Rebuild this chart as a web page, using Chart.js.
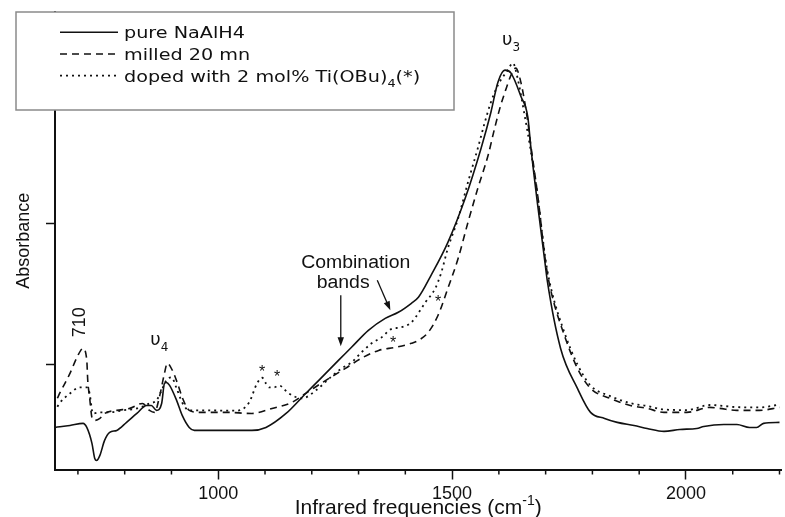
<!DOCTYPE html>
<html>
<head>
<meta charset="utf-8">
<script src="https://cdn.jsdelivr.net/npm/chart.js@4.4.1/dist/chart.umd.min.js"></script>
<style>
html,body{margin:0;padding:0;background:#fff;}
#wrap{width:785px;height:517px;position:relative;}
</style>
</head>
<body>
<div id="wrap"><canvas id="c"></canvas></div>
<script>
// ---------- data ----------
const seriesNames = ['pure NaAlH4', 'milled 20 mn', 'doped with 2 mol% Ti(OBu)₄(*)'];

const pureX = [651,683,711,719,730,736,740,747,757,768,783,804,826,847,857,868,879,885,889,896,911,923,938,949,1023,1072,1102,1145,1187,1215,1257,1285,1321,1357,1385,1413,1428,1455,1491,1528,1562,1583,1598,1613,1626,1647,1662,1668,1683,1698,1704,1732,1768,1796,1826,1853,1889,1917,1953,1987,2023,2038,2081,2109,2136,2151,2166,2200];
const pureY = [0.553,0.567,0.582,0.553,0.440,0.333,0.319,0.355,0.461,0.518,0.532,0.589,0.652,0.709,0.709,0.674,0.723,0.865,0.872,0.851,0.745,0.638,0.553,0.532,0.532,0.532,0.553,0.652,0.794,0.887,1.028,1.121,1.241,1.326,1.369,1.433,1.475,1.631,1.865,2.177,2.532,2.787,3.000,3.085,3.064,2.900,2.750,2.550,2.128,1.737,1.582,1.113,0.830,0.660,0.617,0.589,0.567,0.546,0.525,0.539,0.546,0.560,0.574,0.574,0.553,0.553,0.582,0.589];

const milledX = [656,662,683,698,711,719,721,725,730,736,747,757,783,811,838,853,864,874,885,891,902,913,923,938,960,1017,1072,1115,1157,1187,1230,1272,1306,1343,1379,1413,1428,1449,1470,1491,1513,1534,1555,1577,1591,1604,1613,1626,1636,1647,1662,1668,1683,1700,1711,1740,1768,1796,1838,1881,1917,1953,2002,2051,2072,2109,2157,2200];
const milledY = [0.760,0.801,0.936,1.050,1.113,1.028,0.887,0.766,0.624,0.603,0.617,0.652,0.674,0.688,0.723,0.674,0.660,0.766,0.936,1.007,0.957,0.865,0.766,0.674,0.660,0.660,0.652,0.688,0.730,0.794,0.887,0.972,1.043,1.099,1.121,1.149,1.170,1.227,1.348,1.539,1.752,2.007,2.248,2.482,2.674,2.837,2.929,3.050,3.099,3.000,2.716,2.560,2.199,1.723,1.525,1.206,0.972,0.830,0.759,0.709,0.688,0.660,0.660,0.695,0.688,0.674,0.674,0.695];

const dopedX = [656,662,683,704,719,725,732,747,768,796,826,853,868,879,889,900,911,923,938,960,1040,1066,1083,1094,1102,1109,1119,1130,1151,1179,1209,1240,1264,1285,1306,1328,1349,1370,1391,1413,1443,1464,1477,1491,1513,1534,1555,1570,1583,1598,1619,1630,1640,1655,1668,1683,1700,1711,1740,1768,1796,1838,1881,1917,1953,2002,2051,2109,2157,2200];
const dopedY = [0.700,0.730,0.794,0.837,0.837,0.794,0.652,0.660,0.660,0.674,0.688,0.723,0.745,0.816,0.887,0.908,0.830,0.730,0.674,0.674,0.672,0.730,0.865,0.905,0.865,0.837,0.837,0.850,0.794,0.759,0.816,0.908,0.972,1.014,1.085,1.149,1.191,1.250,1.262,1.298,1.440,1.539,1.652,1.823,2.035,2.291,2.532,2.716,2.858,2.979,3.085,3.135,3.028,2.766,2.518,2.190,1.738,1.546,1.227,1.000,0.850,0.775,0.725,0.705,0.680,0.676,0.712,0.697,0.695,0.715];

const xTicks = [700,800,900,1000,1100,1200,1300,1400,1500,1600,1700,1800,1900,2000,2100,2200];
const xLabelTicks = [1000,1500,2000];
const yTicks = [1,2];
const xTitle = 'Infrared frequencies (cm⁻¹)';
const yTitle = 'Absorbance';

// annotations (anchored in data units)
const bandLabels = [
  {text:'710', x:704, y:1.298, rotate:true},
  {text:'υ₄', x:874, y:1.135},
  {text:'υ₃', x:1626, y:3.262}
];
const noteLines = [
  {text:'Combination', x:1294, y:1.681},
  {text:'bands', x:1267, y:1.539}
];
const arrows = [
  {x1:1262, y1:1.489, x2:1262, y2:1.128},
  {x1:1340, y1:1.596, x2:1368, y2:1.383}
];
const stars = [[1094,0.979],[1126,0.943],[1374,1.184],[1470,1.475]];

// ---------- helpers ----------
const SUB = {'₀':'0','₁':'1','₂':'2','₃':'3','₄':'4','₅':'5','₆':'6','₇':'7','₈':'8','₉':'9'};
const SUP = {'⁻':'-','¹':'1','²':'2','³':'3'};
function toRuns(text){
  const out=[];
  for(const ch of text){
    const k = SUB[ch] ? 'sub' : (SUP[ch] ? 'sup' : 'n');
    const c = SUB[ch] || SUP[ch] || ch;
    if(out.length && out[out.length-1].k===k) out[out.length-1].t += c;
    else out.push({k, t:c});
  }
  return out;
}
function drawRich(ctx, text, x, y, size, family, align, sx){
  sx = sx || 1;
  const rs = toRuns(text);
  const f = k => (k==='n' ? size : Math.round(size*0.66)) + 'px ' + family;
  let w = 0;
  rs.forEach(r => { ctx.font = f(r.k); r.w = ctx.measureText(r.t).width; w += r.w; });
  ctx.save();
  ctx.translate(x, y);
  ctx.scale(sx, 1);
  let cx = align==='center' ? -w/2 : (align==='right' ? -w : 0);
  ctx.textAlign = 'left';
  ctx.textBaseline = 'alphabetic';
  rs.forEach(r => {
    ctx.font = f(r.k);
    const dy = r.k==='sub' ? size*0.32 : (r.k==='sup' ? -size*0.42 : 0);
    ctx.fillText(r.t, cx, dy);
    cx += r.w;
  });
  ctx.restore();
  return w*sx;
}

const INK = '#111';
const SANS = '"Liberation Sans", Arial, sans-serif';
const LEG = '"DejaVu Sans", Verdana, sans-serif';

const series = [
  {label: seriesNames[0], xs: pureX, ys: pureY, dash: [], width: 1.6},
  {label: seriesNames[1], xs: milledX, ys: milledY, dash: [7,5], width: 1.6},
  {label: seriesNames[2], xs: dopedX, ys: dopedY, dash: [2,4], width: 1.8}
];

const decor = {
  id: 'decor',
  afterDraw(chart){
    const {ctx, chartArea: ca, scales: {x, y}} = chart;
    const X = v => x.getPixelForValue(v), Y = v => y.getPixelForValue(v);
    ctx.save();
    // minor ticks on x axis
    ctx.strokeStyle = INK; ctx.lineWidth = 1.5;
    xTicks.filter(v => !xLabelTicks.includes(v)).forEach(v => {
      const px = X(v);
      ctx.beginPath(); ctx.moveTo(px, ca.bottom); ctx.lineTo(px, ca.bottom + 5); ctx.stroke();
    });
    ctx.fillStyle = INK;
    // x title with superscript
    drawRich(ctx, xTitle, (ca.left + ca.right)/2, ca.bottom + 44, 21, SANS, 'center', 1);

    // band labels
    bandLabels.forEach(b => {
      const px = X(b.x), py = Y(b.y);
      if (b.rotate) {
        ctx.save(); ctx.translate(px, py); ctx.rotate(-Math.PI/2);
        ctx.font = '18px ' + SANS; ctx.textAlign = 'center'; ctx.textBaseline = 'middle';
        ctx.fillText(b.text, 0, 0);
        ctx.restore();
      } else {
        drawRich(ctx, b.text, px, py, 18, LEG, 'center', 1);
      }
    });
    // combination bands note
    noteLines.forEach(n => drawRich(ctx, n.text, X(n.x), Y(n.y), 18, SANS, 'center', 1.08));
    // arrows
    arrows.forEach(a => {
      const x1 = X(a.x1), y1 = Y(a.y1), x2 = X(a.x2), y2 = Y(a.y2);
      const ang = Math.atan2(y2 - y1, x2 - x1);
      const L = 9, W = 3.2;
      ctx.strokeStyle = INK; ctx.lineWidth = 1.3;
      ctx.beginPath(); ctx.moveTo(x1, y1);
      ctx.lineTo(x2 - Math.cos(ang)*L*0.8, y2 - Math.sin(ang)*L*0.8); ctx.stroke();
      ctx.beginPath();
      ctx.moveTo(x2, y2);
      ctx.lineTo(x2 - Math.cos(ang)*L - Math.sin(ang)*W, y2 - Math.sin(ang)*L + Math.cos(ang)*W);
      ctx.lineTo(x2 - Math.cos(ang)*L + Math.sin(ang)*W, y2 - Math.sin(ang)*L - Math.cos(ang)*W);
      ctx.closePath(); ctx.fill();
    });
    // asterisks
    ctx.font = '16px ' + SANS; ctx.textAlign = 'center'; ctx.textBaseline = 'alphabetic';
    stars.forEach(s => ctx.fillText('*', X(s[0]), Y(s[1]) + 0.58*16));

    // legend box
    const bx = ca.left - 39, by = ca.top, bw = 438, bh = 98;
    ctx.fillStyle = '#fff';
    ctx.fillRect(bx, by, bw, bh);
    ctx.strokeStyle = '#8a8a8a'; ctx.lineWidth = 1.5;
    ctx.strokeRect(bx, by, bw, bh);
    chart.data.datasets.forEach((ds, i) => {
      const base = by + 26.3 + i*21.7;
      const ly = base - 6;
      ctx.save();
      ctx.strokeStyle = INK; ctx.lineWidth = ds.borderWidth;
      ctx.setLineDash(ds.borderDash || []);
      ctx.beginPath(); ctx.moveTo(bx + 44, ly); ctx.lineTo(bx + 102, ly); ctx.stroke();
      ctx.restore();
      ctx.fillStyle = INK;
      drawRich(ctx, ds.label, bx + 108, base, 15, LEG, 'left', 1.28);
    });
    ctx.restore();
  }
};

new Chart(document.getElementById('c'), {
  type: 'line',
  data: {
    datasets: series.map(s => ({
      label: s.label,
      data: s.xs.map((v, i) => ({x: v, y: s.ys[i]})),
      borderColor: INK,
      borderWidth: s.width,
      borderDash: s.dash,
      pointRadius: 0,
      fill: false,
      cubicInterpolationMode: 'monotone'
    }))
  },
  options: {
    responsive: true,
    maintainAspectRatio: false,
    animation: false,
    layout: {padding: {left: 13.2, right: 0, top: 12, bottom: 8.5}},
    plugins: {legend: {display: false}, tooltip: {enabled: false}},
    scales: {
      x: {
        type: 'linear', min: 651, max: 2204,
        afterBuildTicks: s => { s.ticks = xTicks.map(v => ({value: v})); },
        ticks: {
          autoSkip: false, maxRotation: 0, padding: 5.5, color: INK,
          font: {family: SANS, size: 18, lineHeight: 1},
          callback: v => xLabelTicks.includes(v) ? String(v) : ''
        },
        grid: {
          drawOnChartArea: false, drawTicks: true, tickLength: 10, tickWidth: 1.5,
          tickColor: c => (c.tick && xLabelTicks.includes(c.tick.value)) ? INK : 'rgba(0,0,0,0)'
        },
        border: {display: true, color: INK, width: 2},
        title: {display: false}
      },
      y: {
        type: 'linear', min: 0.255, max: 3.497,
        afterBuildTicks: s => { s.ticks = yTicks.map(v => ({value: v})); },
        ticks: {display: false},
        grid: {drawOnChartArea: false, drawTicks: true, tickLength: 9, tickWidth: 1.5, tickColor: INK},
        border: {display: true, color: INK, width: 2},
        title: {
          display: true, text: yTitle, color: INK,
          font: {family: SANS, size: 18, lineHeight: 1.2},
          padding: {top: 0, bottom: 11.2}
        }
      }
    }
  },
  plugins: [decor]
});
</script>
</body>
</html>
